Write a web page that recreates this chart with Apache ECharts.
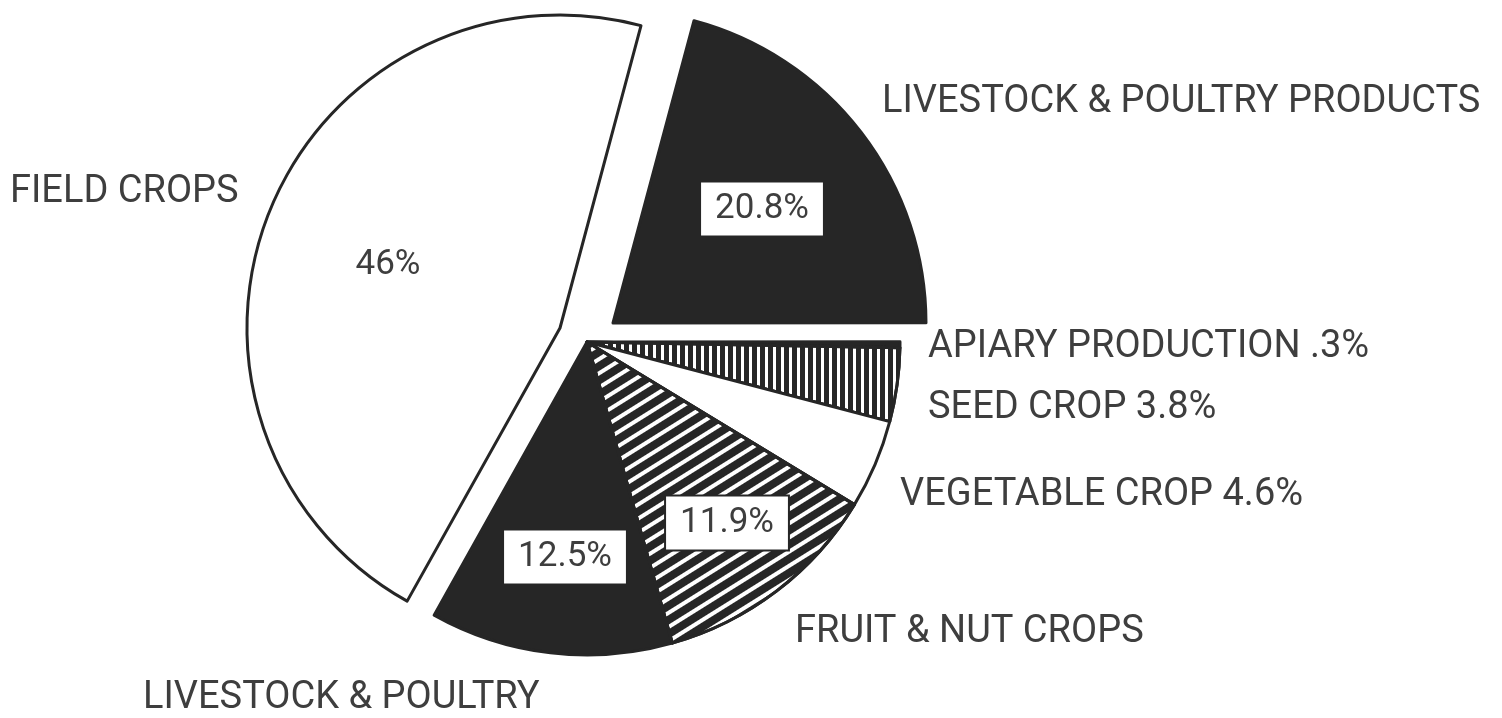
<!DOCTYPE html>
<html>
<head>
<meta charset="utf-8">
<script src="https://cdn.jsdelivr.net/npm/echarts@6/dist/echarts.min.js"></script>
<style>
  html, body { margin: 0; padding: 0; background: #fff; }
  #chart { width: 1502px; height: 718px; }
</style>
</head>
<body>
<div id="chart"></div>
<script>
// slices, clockwise starting at the top edge of the livestock products wedge
const categories = [
  "Livestock & Poultry Products",
  "Apiary Production",
  "Seed Crop",
  "Vegetable Crop",
  "Fruit & Nut Crops",
  "Livestock & Poultry",
  "Field Crops",
];
const shares = [20.8, 0.3, 3.8, 4.6, 11.9, 12.5, 46];
// text written next to the pie
const outerLabels = [
  "LIVESTOCK & POULTRY PRODUCTS",
  "APIARY PRODUCTION .3%",
  "SEED CROP 3.8%",
  "VEGETABLE CROP 4.6%",
  "FRUIT & NUT CROPS",
  "LIVESTOCK & POULTRY",
  "FIELD CROPS",
];
// percent written inside the slice ("" = none)
const innerLabels = ["20.8%", "", "", "", "11.9%", "12.5%", "46%"];
// which piece of the exploded pie each slice belongs to
const pieceOf = [0, 2, 2, 2, 2, 2, 1];

const INK = "#262626";
const TEXT = "#3e3e3e";
const FONT = "Roboto, 'DejaVu Sans', sans-serif";

// apex of each piece: livestock products, field crops, the rest
const pieceCenters = [[613, 323], [560, 328], [587, 342]];
const R = 313;

// fill style per slice
const fills = [
  { color: INK },
  { color: INK },
  { color: "#fff", decal: { symbol: "rect", symbolSize: 1, color: INK, dashArrayX: [5, 3], dashArrayY: [1, 0] } },
  { color: "#fff" },
  { color: "#fff", decal: { symbol: "rect", symbolSize: 1, color: INK, dashArrayX: [1, 0], dashArrayY: [8, 4], rotation: (-32 * Math.PI) / 180 } },
  { color: INK },
  { color: "#fff" },
];

// label anchors
const innerPos = [[762, 209], null, null, null, [727, 523], [565, 557], [388, 265]];
const outerPos = [[882, 102], [928, 347], [928, 408], [900, 495], [795, 632], [143, 698], [10, 192]];

const chart = echarts.init(document.getElementById("chart"));

function pieceSeries(piece) {
  const data = categories.map((name, i) => {
    const mine = pieceOf[i] === piece;
    const boxed = i !== 6;
    return {
      name: name,
      value: shares[i],
      itemStyle: mine
        ? Object.assign({ borderColor: INK, borderWidth: 3 }, fills[i])
        : { color: "transparent", borderWidth: 0 },
      label: {
        show: mine && innerLabels[i] !== "",
        formatter: innerLabels[i],
        backgroundColor: boxed ? "#fff" : "transparent",
        borderColor: i === 4 ? INK : "transparent",
        borderWidth: i === 4 ? 2 : 0,
        padding: boxed ? [10, 14, 8, 14] : 0,
      },
    };
  });
  return {
    type: "pie",
    center: pieceCenters[piece],
    radius: R,
    startAngle: 75,
    clockwise: true,
    silent: true,
    avoidLabelOverlap: false,
    emphasis: { disabled: true },
    label: {
      position: "inside",
      color: TEXT,
      fontFamily: FONT,
      fontSize: 35,
    },
    labelLine: { show: false },
    labelLayout: (p) => {
      const pos = innerPos[p.dataIndex];
      if (!pos) return {};
      return { x: pos[0], y: pos[1], align: "center", verticalAlign: "middle" };
    },
    data: data,
  };
}

const nameSeries = {
  type: "pie",
  center: pieceCenters[2],
  radius: R,
  startAngle: 75,
  silent: true,
  avoidLabelOverlap: false,
  emphasis: { disabled: true },
  itemStyle: { color: "transparent", borderWidth: 0 },
  label: {
    show: true,
    position: "outside",
    color: TEXT,
    fontFamily: FONT,
    fontSize: 38,
  },
  labelLine: { show: false },
  labelLayout: (p) => {
    const pos = outerPos[p.dataIndex];
    return { x: pos[0], y: pos[1], align: "left", verticalAlign: "middle" };
  },
  data: categories.map((name, i) => ({
    name: name,
    value: shares[i],
    label: { formatter: outerLabels[i] },
  })),
};

chart.setOption({
  backgroundColor: "#fff",
  animation: false,
  series: [pieceSeries(0), pieceSeries(1), pieceSeries(2), nameSeries],
});
</script>
</body>
</html>
